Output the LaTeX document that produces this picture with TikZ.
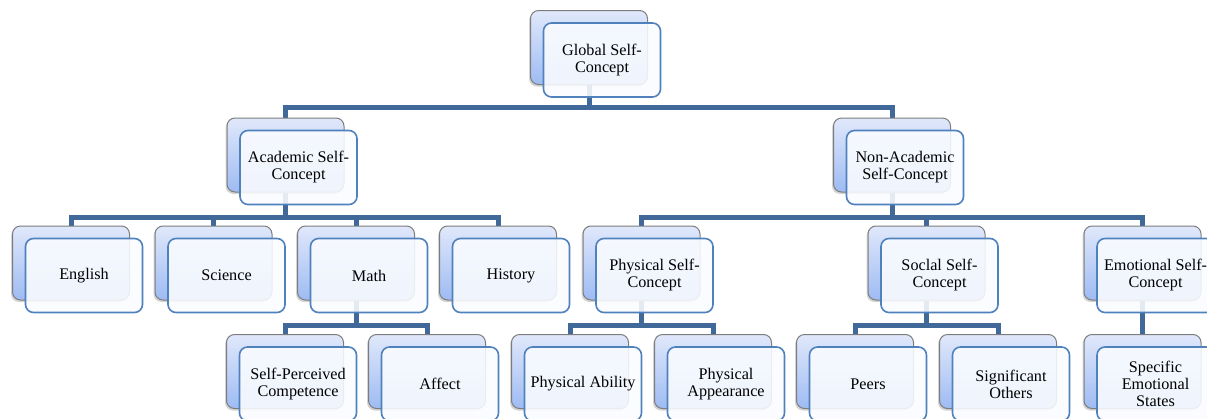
\documentclass[tikz,border=0pt]{standalone}
\usepackage{fontspec}
\setmainfont{Liberation Serif}
\usetikzlibrary{shadows,backgrounds}
\definecolor{linkblue}{RGB}{64,104,153}
\definecolor{frontblue}{RGB}{79,129,189}
\definecolor{frontfill}{RGB}{250,252,255}
\definecolor{backtop}{RGB}{224,232,251}
\definecolor{backbottom}{RGB}{158,187,243}
\definecolor{cardgrey}{RGB}{125,125,125}
\newcommand{\card}[3]{%
    \node[backcard] (#1) at (#2) {};
    \node[frontcard] (#1-f) at ([xshift=13pt, yshift=-12.5pt]#1.center) {#3};
}

\begin{document}
\begin{tikzpicture}[x=1pt, y=-1pt,
    backcard/.style={draw=cardgrey, line width=1pt, rounded corners=8pt,
        top color=backtop, bottom color=backbottom,
        minimum width=117pt, minimum height=74pt, inner sep=0pt,
        drop shadow={shadow xshift=-1.5pt, shadow yshift=-2pt, opacity=0.35}},
    frontcard/.style={draw=frontblue, line width=1.6pt, rounded corners=8pt,
        fill=frontfill, fill opacity=0.88, text opacity=1,
        minimum width=117pt, minimum height=74pt, inner sep=2pt, align=center,
        font=\fontsize{16.2}{17}\selectfont},
    link/.style={draw=linkblue, line width=5pt}]
    \useasboundingbox (0, 0) rectangle (1207, 418);

    % level 1 and 2
    \card{global}{589, 47.5}{Global Self-\\Concept}
    \card{academic}{285.5, 155}{Academic Self-\\Concept}
    \card{nonacademic}{892, 155}{Non-Academic\\Self-Concept}

    % level 3
    \card{english}{71, 263}{English}
    \card{science}{213.5, 263}{Science}
    \card{math}{356, 263}{Math}
    \card{history}{498, 263}{History}
    \card{physical}{641.5, 263}{Physical Self-\\Concept}
    \card{social}{926.5, 263}{Soclal Self-\\Concept}
    \card{emotional}{1142.5, 263}{Emotional Self-\\Concept}

    % level 4
    \card{competence}{285, 371.5}{Self-Perceived\\Competence}
    \card{affect}{427, 371.5}{Affect}
    \card{ability}{570, 371.5}{Physical Ability}
    \card{appearance}{713, 371.5}{Physical\\Appearance}
    \card{peers}{855, 371.5}{Peers}
    \card{others}{998, 371.5}{Significant\\Others}
    \card{states}{1142.5, 371.5}{Specific\\Emotional\\States}

    \begin{scope}[on background layer]
        \foreach \c in {academic, nonacademic}
            \draw[link] (global.south) -- ++(0, 22.5) -| (\c.north);
        \foreach \c in {english, science, math, history}
            \draw[link] (academic.south) -- ++(0, 25) -| (\c.north);
        \foreach \c in {physical, social, emotional}
            \draw[link] (nonacademic.south) -- ++(0, 25) -| (\c.north);
        \foreach \c in {competence, affect}
            \draw[link] (math.south) -- ++(0, 25) -| (\c.north);
        \foreach \c in {ability, appearance}
            \draw[link] (physical.south) -- ++(0, 25) -| (\c.north);
        \foreach \c in {peers, others}
            \draw[link] (social.south) -- ++(0, 25) -| (\c.north);
        \draw[link] (emotional.south) -- (states.north);
    \end{scope}
\end{tikzpicture}
\end{document}
